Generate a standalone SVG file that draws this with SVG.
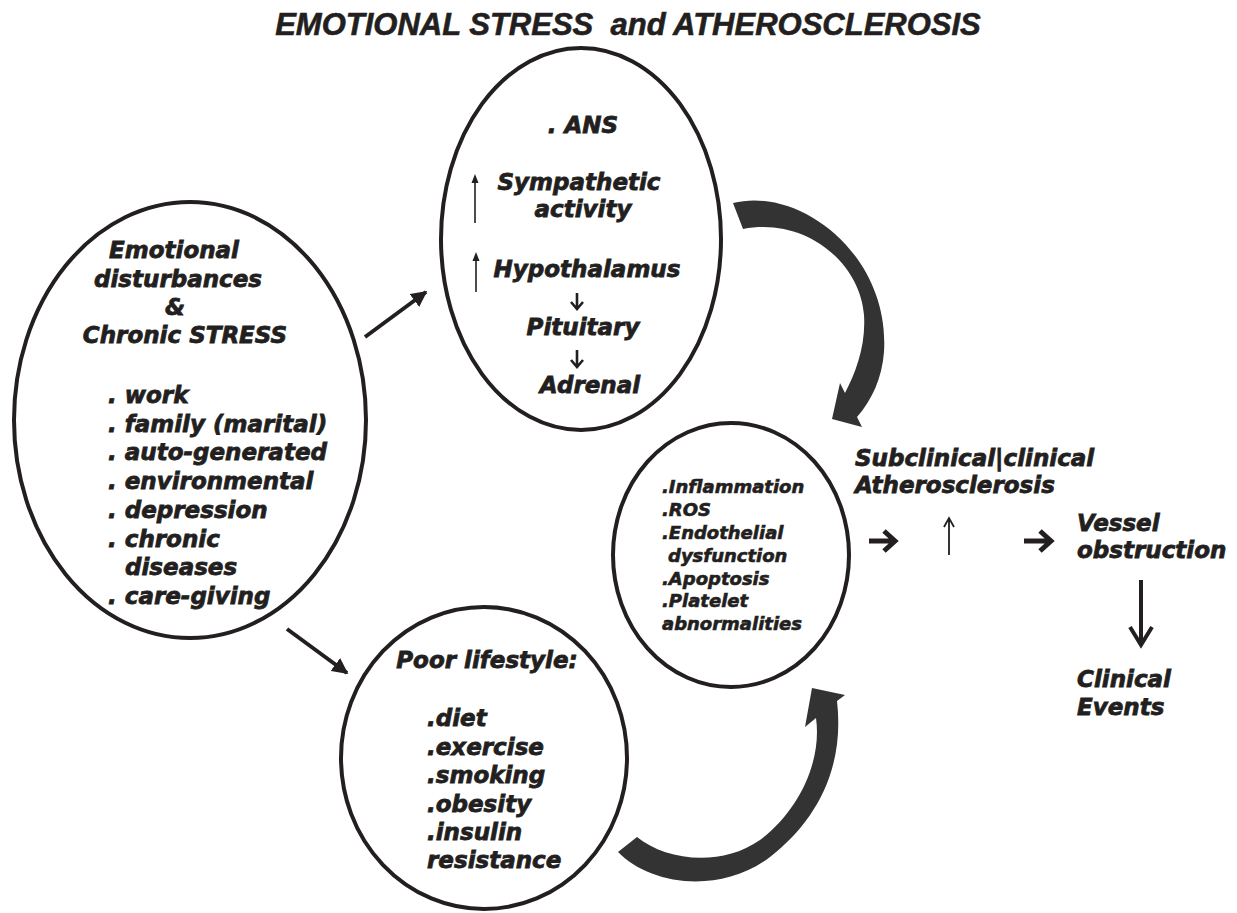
<svg xmlns="http://www.w3.org/2000/svg" width="1237" height="913" viewBox="0 0 1237 913">
<style>
.t{font-family:"DejaVu Sans","Liberation Sans",sans-serif;font-weight:bold;font-style:italic;fill:#231f20;stroke:#231f20;stroke-width:0.8;font-size:23px}
.s{font-size:18px;stroke-width:0.6}
.m{text-anchor:middle}
.title{font-family:"Liberation Sans",Arial,sans-serif;font-weight:bold;font-style:italic;font-size:31px;fill:#231f20;stroke:#231f20;stroke-width:0.6;text-anchor:middle}
.node{fill:none;stroke:#231f20;stroke-width:4}
.ln{fill:none;stroke:#231f20;stroke-linecap:butt}
.big{fill:#333333;stroke:none}
</style>
<defs>
<marker id="tri" viewBox="0 0 10 10" refX="9" refY="5" markerWidth="4" markerHeight="4" orient="auto" markerUnits="strokeWidth">
<path d="M0 0 L10 5 L0 10 Z" fill="#231f20"/>
</marker>
</defs>
<rect width="1237" height="913" fill="#ffffff"/>
<text class="title" x="628" y="35" xml:space="preserve">EMOTIONAL STRESS  and ATHEROSCLEROSIS</text>

<g id="node-stress">
<ellipse class="node" cx="190" cy="420" rx="176" ry="218"/>
<text class="t m" x="174" y="258">Emotional</text>
<text class="t m" x="178" y="287">disturbances</text>
<text class="t m" x="175" y="315">&amp;</text>
<text class="t m" x="185" y="343">Chronic STRESS</text>
<text class="t" x="108" y="403">. work</text>
<text class="t" x="108" y="432">. family (marital)</text>
<text class="t" x="108" y="460">. auto-generated</text>
<text class="t" x="108" y="489">. environmental</text>
<text class="t" x="108" y="518">. depression</text>
<text class="t" x="108" y="547">. chronic</text>
<text class="t" x="125" y="575">diseases</text>
<text class="t" x="108" y="604">. care-giving</text>
</g>

<g id="node-ans">
<ellipse class="node" cx="581" cy="239" rx="140" ry="191"/>
<text class="t m" x="583" y="133">. ANS</text>
<text class="t m" x="579" y="190">Sympathetic</text>
<text class="t m" x="583" y="217">activity</text>
<text class="t m" x="587" y="277">Hypothalamus</text>
<text class="t m" x="583" y="335">Pituitary</text>
<text class="t m" x="590" y="393">Adrenal</text>
<path class="ln" stroke-width="1.6" d="M475 223 V181"/>
<path d="M475 174 L471.5 183 L478.5 183 Z" fill="#231f20"/>
<path class="ln" stroke-width="1.6" d="M476 292 V259"/>
<path d="M476 252 L472.5 261 L479.5 261 Z" fill="#231f20"/>
<path class="ln" stroke-width="2.6" d="M577 293 V309 M571 302 L577 309 L583 302"/>
<path class="ln" stroke-width="2.6" d="M577 350 V367 M571 360 L577 367 L583 360"/>
</g>

<g id="node-mechanisms">
<ellipse class="node" cx="731" cy="555" rx="118" ry="132"/>
<text class="t s" x="662" y="493">.Inflammation</text>
<text class="t s" x="662" y="516">.ROS</text>
<text class="t s" x="662" y="539">.Endothelial</text>
<text class="t s" x="668" y="562">dysfunction</text>
<text class="t s" x="662" y="585">.Apoptosis</text>
<text class="t s" x="662" y="607">.Platelet</text>
<text class="t s" x="662" y="630">abnormalities</text>
</g>

<g id="node-lifestyle">
<ellipse class="node" cx="484" cy="758" rx="143" ry="151"/>
<text class="t m" x="487" y="668">Poor lifestyle:</text>
<text class="t" x="427" y="726">.diet</text>
<text class="t" x="427" y="755">.exercise</text>
<text class="t" x="427" y="783">.smoking</text>
<text class="t" x="427" y="812">.obesity</text>
<text class="t" x="427" y="840">.insulin</text>
<text class="t" x="427" y="868">resistance</text>
</g>

<g id="node-athero">
<text class="t" x="855" y="466">Subclinical|clinical</text>
<text class="t" x="855" y="493">Atherosclerosis</text>
<path class="ln" stroke-width="1.8" d="M949 555 V518 M944 527 L949 518 L954 527"/>
</g>

<g id="node-vessel">
<text class="t" x="1077" y="531">Vessel</text>
<text class="t" x="1077" y="558">obstruction</text>
</g>

<g id="node-events">
<text class="t" x="1077" y="687">Clinical</text>
<text class="t" x="1077" y="715">Events</text>
</g>

<g id="connectors">
<path class="ln" stroke-width="4" d="M365 337 L426 292" marker-end="url(#tri)"/>
<path class="ln" stroke-width="4" d="M287 629 L347 673" marker-end="url(#tri)"/>
<path class="big" d="M733 203 C800 186 890 255 884 352 C882 378 872 400 857 417 L862 427 L832 419 L840 383 L845 393 C856 372 866 345 864 315 C860 262 805 217 743 229 Z"/>
<path class="big" d="M618 852 C650 885 720 895 770 857 C815 822 845 770 837 701 L845 695 L812 688 L805 727 L816 718 C822 760 800 810 760 840 C720 868 665 860 637 837 Z"/>
<path class="ln" stroke-width="5" d="M869 541 H893 M884 531 L895 541 L884 551"/>
<path class="ln" stroke-width="5" d="M1024 541 H1049 M1040 531 L1051 541 L1040 551"/>
<path class="ln" stroke-width="4" d="M1141 580 V645 M1130 627 L1141 645 L1152 627"/>
</g>
</svg>
